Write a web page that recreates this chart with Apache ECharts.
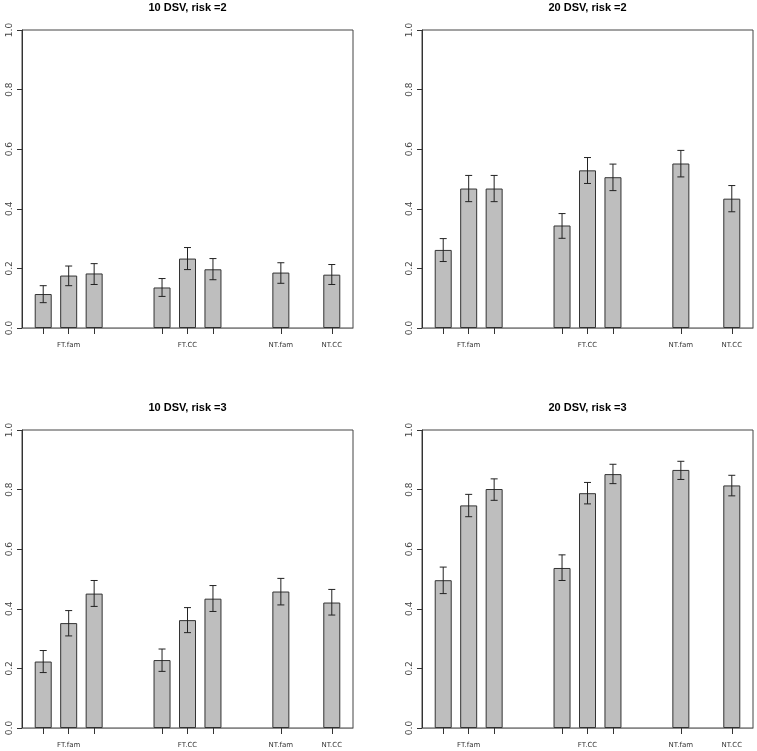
<!DOCTYPE html>
<html>
<head>
<meta charset="utf-8">
<script src="https://cdn.jsdelivr.net/npm/echarts@6/dist/echarts.min.js"></script>
<style>
  html, body { margin: 0; padding: 0; background: #fff; }
  #container { width: 757px; height: 751px; }
</style>
</head>
<body>
<div id="container"></div>
<script>
// data
var titles = ['10 DSV, risk =2', '20 DSV, risk =2', '10 DSV, risk =3', '20 DSV, risk =3'];
var groupLabels = ['FT.fam', 'FT.CC', 'NT.fam', 'NT.CC'];

var means1 = [0.114, 0.176, 0.183, 0.136, 0.233, 0.197, 0.186, 0.179];
var lower1 = [0.085, 0.142, 0.146, 0.106, 0.196, 0.162, 0.150, 0.146];
var upper1 = [0.142, 0.208, 0.216, 0.166, 0.270, 0.233, 0.219, 0.213];

var means2 = [0.262, 0.468, 0.468, 0.344, 0.529, 0.506, 0.552, 0.434];
var lower2 = [0.223, 0.424, 0.424, 0.301, 0.485, 0.461, 0.507, 0.390];
var upper2 = [0.300, 0.512, 0.512, 0.384, 0.572, 0.550, 0.596, 0.478];

var means3 = [0.223, 0.352, 0.451, 0.228, 0.362, 0.434, 0.458, 0.421];
var lower3 = [0.186, 0.309, 0.408, 0.190, 0.320, 0.391, 0.413, 0.379];
var upper3 = [0.260, 0.394, 0.495, 0.265, 0.404, 0.478, 0.502, 0.465];

var means4 = [0.496, 0.747, 0.802, 0.537, 0.788, 0.852, 0.866, 0.814];
var lower4 = [0.451, 0.709, 0.764, 0.495, 0.752, 0.820, 0.834, 0.779];
var upper4 = [0.540, 0.784, 0.836, 0.581, 0.824, 0.885, 0.895, 0.848];

// layout: bars sit in slots of a 39-slot category axis
var NSLOT = 39;
var barSlot = [2, 5, 8, 16, 19, 22, 30, 36];
var labelSlot = [5, 19, 30, 36];

var panels = [
  {m: means1, lo: lower1, hi: upper1, left: 22, top: 30},
  {m: means2, lo: lower2, hi: upper2, left: 422, top: 30},
  {m: means3, lo: lower3, hi: upper3, left: 22, top: 430},
  {m: means4, lo: lower4, hi: upper4, left: 422, top: 430}
];
var W = 331, H = 298;

var cats = [];
for (var i = 0; i < NSLOT; i++) {
  var k = labelSlot.indexOf(i);
  cats.push(k >= 0 ? groupLabels[k] : 's' + i);
}

var option = {
  animation: false,
  backgroundColor: '#fff',
  textStyle: {fontFamily: 'DejaVu Sans'},
  title: [], grid: [], xAxis: [], yAxis: [], series: []
};

panels.forEach(function (p, n) {
  option.title.push({
    text: titles[n],
    left: p.left + W / 2,
    top: p.top - 28,
    padding: 0,
    textAlign: 'center',
    textStyle: {fontSize: 11, fontWeight: 'bold', color: '#000', fontFamily: 'Liberation Sans'}
  });
  option.grid.push({
    left: p.left, top: p.top, width: W, height: H,
    show: true, borderColor: '#444', borderWidth: 1
  });
  option.xAxis.push({
    type: 'category', gridIndex: n, data: cats, boundaryGap: true,
    axisLine: {show: true, lineStyle: {color: '#888', width: 1}},
    axisTick: {
      show: true, alignWithLabel: true, length: 6,
      interval: function (idx) { return barSlot.indexOf(idx) >= 0; },
      lineStyle: {color: '#333'}
    },
    axisLabel: {
      interval: 0, fontSize: 7, color: '#333', margin: 14,
      formatter: function (v) { return groupLabels.indexOf(v) >= 0 ? v : ''; }
    },
    splitLine: {show: false}
  });
  option.yAxis.push({
    type: 'value', gridIndex: n, min: 0, max: 1, interval: 0.2,
    axisLine: {show: true, lineStyle: {color: '#333'}},
    axisTick: {show: true, length: 5, lineStyle: {color: '#333'}},
    axisLabel: {
      rotate: 90, fontSize: 9, color: '#444', margin: 8,
      formatter: function (v) { return v.toFixed(1); }
    },
    splitLine: {show: false}
  });

  var barData = [], errData = [];
  for (var i = 0; i < NSLOT; i++) barData.push(null);
  barSlot.forEach(function (s, j) {
    barData[s] = p.m[j];
    errData.push([s, p.lo[j], p.hi[j]]);
  });

  option.series.push({
    type: 'bar', xAxisIndex: n, yAxisIndex: n, data: barData,
    barWidth: 17,
    itemStyle: {color: '#bebebe', borderColor: '#333', borderWidth: 1}
  });
  option.series.push({
    type: 'custom', xAxisIndex: n, yAxisIndex: n, data: errData,
    z: 5,
    renderItem: function (params, api) {
      var x = api.value(0);
      var a = api.coord([x, api.value(1)]);
      var b = api.coord([x, api.value(2)]);
      var cap = 3.5;
      var st = {stroke: '#222', lineWidth: 1};
      return {
        type: 'group',
        children: [
          {type: 'line', shape: {x1: a[0], y1: a[1], x2: b[0], y2: b[1]}, style: st},
          {type: 'line', shape: {x1: a[0] - cap, y1: a[1], x2: a[0] + cap, y2: a[1]}, style: st},
          {type: 'line', shape: {x1: b[0] - cap, y1: b[1], x2: b[0] + cap, y2: b[1]}, style: st}
        ]
      };
    }
  });
});

var myChart = echarts.init(document.getElementById('container'));
myChart.setOption(option);
</script>
</body>
</html>
